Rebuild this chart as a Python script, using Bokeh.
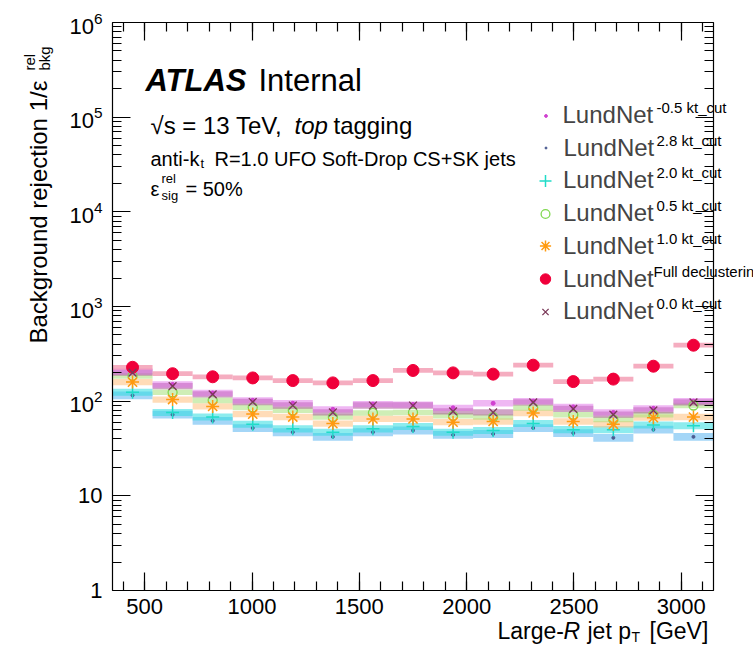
import math
from bokeh.plotting import figure
from bokeh.models import (Range1d, LogAxis, LinearAxis, SingleIntervalTicker, LogTicker,
                          LogTickFormatter, CustomJSTickFormatter, Label, Legend,
                          LegendItem, ColumnDataSource)
from bokeh.embed import file_html
from bokeh.resources import INLINE

# ---------------- data ----------------
pt_edges = [350, 536.7, 723.3, 910, 1096.7, 1283.3, 1470, 1656.7, 1843.3,
            2030, 2216.7, 2403.3, 2590, 2776.7, 2963.3, 3150]

rej_ktm05 = [205, 150, 122, 102, 95, 82, 93, 92, 85, 95, 100, 87, 76, 84, 100]
rej_kt28 = [115, 72, 62, 52, 47, 42, 47, 49, 44, 45, 52, 46, 41, 50, 42]
rej_kt20 = [124, 76, 68, 57, 51, 47, 51, 54, 47, 49, 58, 50, 50, 56, 55]
rej_kt05 = [185, 124, 102, 86, 80, 68, 75, 76, 70, 68, 85, 72, 64, 72, 90]
rej_kt10 = [159, 104, 88, 73, 68, 58, 65, 65, 60, 61, 75, 61, 57, 67, 68]
rej_full = [228, 195, 181, 176, 165, 156, 165, 211, 199, 193, 240, 161, 171, 234, 390]
rej_kt00 = [200, 144, 118, 98, 90, 76, 90, 90, 78, 76, 97, 83, 72, 80, 97]

rel_unc = {"ktm05": 0.08, "kt28": 0.10, "kt20": 0.09, "kt05": 0.07,
           "kt10": 0.08, "full": 0.06, "kt00": 0.08}

legend_tags = ["-0.5 kt_cut", "2.8 kt_cut", "2.0 kt_cut", "0.5 kt_cut",
               "1.0 kt_cut", "Full declustering", "0.0 kt_cut"]

X_LO, X_HI = 350, 3150      # axis extent (GeV)
Y_LO, Y_HI = 1, 1e6         # axis extent (rejection)

FONT = "Liberation Sans"

# ---------------- geometry ----------------
# The whole canvas is the plotting frame (so texts outside the axes box are not clipped);
# the four axes are drawn at fixed locations that form the box.
W, H = 753, 651
BL, BR, BT, BB = 112, 713, 22, 590   # axes box on the page (pixels)
gev_per_px = (X_HI - X_LO) / (BR - BL)
dec_per_px = math.log10(Y_HI / Y_LO) / (BB - BT)
x0 = X_LO - BL * gev_per_px
x1 = X_HI + (W - BR) * gev_per_px
y0 = Y_LO * 10 ** (-(H - BB) * dec_per_px)
y1 = Y_HI * 10 ** (BT * dec_per_px)

p = figure(width=W, height=H, output_backend="svg", toolbar_location=None,
           y_axis_type="log", x_range=Range1d(x0, x1), y_range=Range1d(y0, y1),
           min_border=0)
p.background_fill_color = "white"
p.border_fill_color = "white"
p.outline_line_color = None
p.xgrid.visible = False
p.ygrid.visible = False

xt = SingleIntervalTicker(interval=500, num_minor_ticks=5)
yt = LogTicker(num_minor_ticks=10)

def style_axis(ax):
    ax.major_tick_in = 18
    ax.major_tick_out = 0
    ax.minor_tick_in = 9
    ax.minor_tick_out = 0
    ax.axis_line_color = "black"
    ax.major_tick_line_color = "black"
    ax.minor_tick_line_color = "black"
    ax.axis_line_width = 1.2
    ax.major_tick_line_width = 1.2
    ax.minor_tick_line_width = 1.2
    ax.major_label_text_font = FONT
    ax.major_label_text_color = "black"
    ax.major_label_text_font_size = "22px"

xa = p.xaxis[0]
xa.ticker = xt
xa.fixed_location = Y_LO
xa.bounds = (X_LO, X_HI)
style_axis(xa)
xa.major_label_standoff = 8

ya = p.yaxis[0]
ya.ticker = yt
ya.formatter = LogTickFormatter(min_exponent=2)
ya.fixed_location = X_LO
ya.bounds = (Y_LO, Y_HI)
style_axis(ya)
ya.major_label_standoff = 10

blank = CustomJSTickFormatter(code="return ''")
top_ax = LinearAxis(ticker=xt, formatter=blank, major_label_standoff=0,
                    fixed_location=Y_HI, bounds=(X_LO, X_HI))
style_axis(top_ax)
p.add_layout(top_ax, "above")
right_ax = LogAxis(ticker=yt, formatter=blank, major_label_standoff=0,
                   fixed_location=X_HI, bounds=(Y_LO, Y_HI))
style_axis(right_ax)
p.add_layout(right_ax, "right")

# ---------------- series ----------------
lo = pt_edges[:-1]
hi = pt_edges[1:]
centers = [(a + b) / 2 for a, b in zip(lo, hi)]

# key, values, marker style, band colour, band alpha, legend glyph box width
series = [
    ("ktm05", rej_ktm05, dict(marker="circle", size=4, fill_color="#d040d0", line_color="#d040d0"), "#e070e8", 0.50, 7),
    ("kt28", rej_kt28, dict(marker="circle", size=3, fill_color="#4a5a90", line_color="#4a5a90"), "#5ab4f0", 0.55, 5),
    ("kt20", rej_kt20, dict(marker="cross", size=13, line_color="#20dcc8", line_width=1.5), "#30dce0", 0.55, 30),
    ("kt05", rej_kt05, dict(marker="circle", size=9, fill_color=None, line_color="#80d850", line_width=1.3), "#a8e07a", 0.55, 22),
    ("kt10", rej_kt10, dict(marker="asterisk", size=13, line_color="#ff9a10", line_width=1.5), "#ffc488", 0.60, 28),
    ("full", rej_full, dict(marker="circle", size=12, fill_color="#f0003a", line_color="#f0003a"), "#f291ab", 0.75, 26),
    ("kt00", rej_kt00, dict(marker="x", size=11, line_color="#7a3858", line_width=1.3), "#a85a96", 0.55, 22),
]

band_order = ["kt28", "kt20", "kt10", "kt05", "kt00", "ktm05", "full"]
sdict = {s[0]: s for s in series}
for key in band_order:
    _, vals, _, bcol, balpha, _ = sdict[key]
    u = rel_unc[key]
    src = ColumnDataSource(dict(left=lo, right=hi,
                                bottom=[v / (1 + u) for v in vals],
                                top=[v * (1 + u) for v in vals]))
    p.quad(left="left", right="right", bottom="bottom", top="top", source=src,
           fill_color=bcol, fill_alpha=balpha, line_color=None)

renderers = {}
for key, vals, mstyle, _, _, _ in series:
    src = ColumnDataSource(dict(x=centers, y=vals))
    renderers[key] = p.scatter(x="x", y="y", source=src, **mstyle)

# ---------------- legend (one box per row, so that every marker keeps its size) ----------------
ROW0, ROWH, GX, TX = 115, 32.7, 545, 563
for i, (key, *_rest) in enumerate(series):
    gw = _rest[-1]
    cy = ROW0 + ROWH * i
    leg = Legend(items=[LegendItem(label="LundNet", renderers=[renderers[key]])],
                 location=(GX - gw / 2, H - (cy + 16.5)),
                 padding=0, margin=0, spacing=0,
                 label_height=33, glyph_height=33, glyph_width=gw,
                 label_standoff=int(round(TX - GX - gw / 2)),
                 label_text_font=FONT, label_text_font_size="24px",
                 background_fill_alpha=0, border_line_color=None)
    p.add_layout(leg, "center")

# ---------------- text annotations (page pixel positions) ----------------
def lab(px, py, text, size, style="normal", angle=0.0):
    p.add_layout(Label(x=px, y=H - py, x_units="screen", y_units="screen",
                       text=text, text_font=FONT,
                       text_font_size=f"{size}px", text_font_style=style,
                       text_align="left", text_baseline="alphabetic",
                       text_color="black", angle=angle, angle_units="rad"))

for i, tag in enumerate(legend_tags):
    lab(656 if not tag.startswith("Full") else 653, 107 + ROWH * i, tag, 15)

lab(145, 80, "ATLAS", 31, "bold italic")
lab(258, 80, "Internal", 31)
lab(150, 125, "\u221as = 13 TeV,", 24)
lab(294, 125, "top", 24, "italic")
lab(333, 125, "tagging", 24)
lab(150, 158, "anti-k", 20)
lab(200, 163, "t", 13)
lab(214, 158, "R=1.0 UFO Soft-Drop CS+SK jets", 20)
lab(150, 188, "\u03b5", 20)
lab(161, 178, "rel", 13)
lab(161, 195, "sig", 13)
lab(185, 188, "= 50%", 20)

# x-axis title
lab(497, 630, "Large-", 23)
lab(563, 630, "R", 23, "italic")
lab(587, 630, "jet p", 23)
lab(631, 636, "T", 14)
lab(649, 630, "[GeV]", 23)

# y-axis title (rotated)
ang = math.pi / 2
lab(38, 343, "Background rejection 1/\u03b5", 24, angle=ang)
lab(29, 70, "rel", 15, angle=ang)
lab(44, 70, "bkg", 15, angle=ang)

open("out.html", "w").write(file_html(p, INLINE))
